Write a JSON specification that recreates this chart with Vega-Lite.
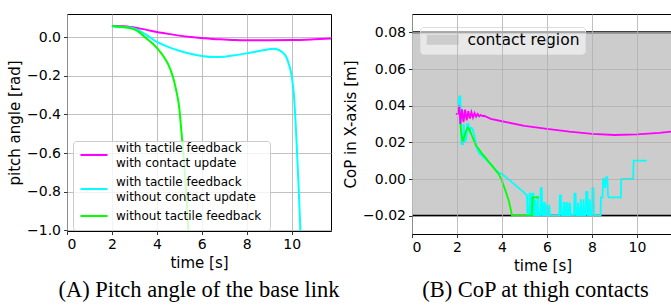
{
  "$schema": "https://vega.github.io/schema/vega-lite/v6.json",
  "background": "white",
  "padding": {"left": 7, "top": 13, "right": 0, "bottom": 0},
  "spacing": 2,
  "config": {
    "font": "DejaVu Sans",
    "view": {"stroke": "black", "strokeWidth": 1},
    "axis": {
      "grid": true, "gridColor": "#b0b0b0", "gridWidth": 0.8,
      "domain": false,
      "tickColor": "black", "tickSize": 3.5, "tickWidth": 0.8,
      "labelFont": "DejaVu Sans", "labelFontSize": 14, "labelColor": "black", "labelPadding": 3,
      "titleFont": "DejaVu Sans", "titleFontSize": 15, "titleFontWeight": "normal", "titleColor": "black", "titlePadding": 4
    },
    "title": {"font": "Liberation Serif", "fontSize": 22.5, "fontWeight": "normal", "color": "black"}
  },
  "resolve": {"scale": {"color": "independent", "fill": "independent"}, "legend": {"color": "independent"}},
  "hconcat": [
    {
      "width": 264, "height": 217,
      "title": {"text": "(A) Pitch angle of the base link", "orient": "bottom", "anchor": "middle", "offset": 8},
      "data": {"values": [
        {"series": "with tactile feedback|with contact update", "t": 2.0, "v": 0.058},
        {"series": "with tactile feedback|with contact update", "t": 2.5, "v": 0.057},
        {"series": "with tactile feedback|with contact update", "t": 3.0, "v": 0.05},
        {"series": "with tactile feedback|with contact update", "t": 3.5, "v": 0.039},
        {"series": "with tactile feedback|with contact update", "t": 4.0, "v": 0.027},
        {"series": "with tactile feedback|with contact update", "t": 4.5, "v": 0.017},
        {"series": "with tactile feedback|with contact update", "t": 5.0, "v": 0.008},
        {"series": "with tactile feedback|with contact update", "t": 5.5, "v": 0.001},
        {"series": "with tactile feedback|with contact update", "t": 6.0, "v": -0.004},
        {"series": "with tactile feedback|with contact update", "t": 6.5, "v": -0.009},
        {"series": "with tactile feedback|with contact update", "t": 7.0, "v": -0.012},
        {"series": "with tactile feedback|with contact update", "t": 7.5, "v": -0.015},
        {"series": "with tactile feedback|with contact update", "t": 8.0, "v": -0.016},
        {"series": "with tactile feedback|with contact update", "t": 9.0, "v": -0.016},
        {"series": "with tactile feedback|with contact update", "t": 10.0, "v": -0.015},
        {"series": "with tactile feedback|with contact update", "t": 11.0, "v": -0.011},
        {"series": "with tactile feedback|with contact update", "t": 11.75, "v": -0.007},
        {"series": "with tactile feedback|without contact update", "t": 2.0, "v": 0.058},
        {"series": "with tactile feedback|without contact update", "t": 2.3, "v": 0.052},
        {"series": "with tactile feedback|without contact update", "t": 2.7, "v": 0.052},
        {"series": "with tactile feedback|without contact update", "t": 3.0, "v": 0.044},
        {"series": "with tactile feedback|without contact update", "t": 3.5, "v": 0.015},
        {"series": "with tactile feedback|without contact update", "t": 4.0, "v": -0.025},
        {"series": "with tactile feedback|without contact update", "t": 4.5, "v": -0.05},
        {"series": "with tactile feedback|without contact update", "t": 5.0, "v": -0.07},
        {"series": "with tactile feedback|without contact update", "t": 5.5, "v": -0.086},
        {"series": "with tactile feedback|without contact update", "t": 6.0, "v": -0.097},
        {"series": "with tactile feedback|without contact update", "t": 6.6, "v": -0.103},
        {"series": "with tactile feedback|without contact update", "t": 7.0, "v": -0.101},
        {"series": "with tactile feedback|without contact update", "t": 7.5, "v": -0.093},
        {"series": "with tactile feedback|without contact update", "t": 8.0, "v": -0.084},
        {"series": "with tactile feedback|without contact update", "t": 8.5, "v": -0.073},
        {"series": "with tactile feedback|without contact update", "t": 9.0, "v": -0.062},
        {"series": "with tactile feedback|without contact update", "t": 9.2, "v": -0.06},
        {"series": "with tactile feedback|without contact update", "t": 9.4, "v": -0.065},
        {"series": "with tactile feedback|without contact update", "t": 9.6, "v": -0.08},
        {"series": "with tactile feedback|without contact update", "t": 9.75, "v": -0.1},
        {"series": "with tactile feedback|without contact update", "t": 9.9, "v": -0.15},
        {"series": "with tactile feedback|without contact update", "t": 10.0, "v": -0.2},
        {"series": "with tactile feedback|without contact update", "t": 10.1, "v": -0.3},
        {"series": "with tactile feedback|without contact update", "t": 10.2, "v": -0.5},
        {"series": "with tactile feedback|without contact update", "t": 10.3, "v": -0.75},
        {"series": "with tactile feedback|without contact update", "t": 10.37, "v": -0.95},
        {"series": "with tactile feedback|without contact update", "t": 10.4, "v": -1.05},
        {"series": "without tactile feedback", "t": 2.0, "v": 0.058},
        {"series": "without tactile feedback", "t": 2.5, "v": 0.053},
        {"series": "without tactile feedback", "t": 3.0, "v": 0.04},
        {"series": "without tactile feedback", "t": 3.25, "v": 0.022},
        {"series": "without tactile feedback", "t": 3.5, "v": -0.003},
        {"series": "without tactile feedback", "t": 4.0, "v": -0.055},
        {"series": "without tactile feedback", "t": 4.3, "v": -0.1},
        {"series": "without tactile feedback", "t": 4.5, "v": -0.14},
        {"series": "without tactile feedback", "t": 4.7, "v": -0.2},
        {"series": "without tactile feedback", "t": 4.85, "v": -0.27},
        {"series": "without tactile feedback", "t": 5.0, "v": -0.37},
        {"series": "without tactile feedback", "t": 5.1, "v": -0.5},
        {"series": "without tactile feedback", "t": 5.25, "v": -0.71},
        {"series": "without tactile feedback", "t": 5.4, "v": -1.0},
        {"series": "without tactile feedback", "t": 5.42, "v": -1.05}
      ]},
      "mark": {"type": "line", "strokeWidth": 2, "clip": true, "interpolate": "monotone"},
      "encoding": {
        "x": {"field": "t", "type": "quantitative", "scale": {"domain": [0, 11.75], "nice": false, "zero": false},
              "axis": {"values": [0, 2, 4, 6, 8, 10], "title": "time [s]"}},
        "y": {"field": "v", "type": "quantitative", "scale": {"domain": [-1.004, 0.12], "nice": false, "zero": false},
              "axis": {"values": [0, -0.2, -0.4, -0.6, -0.8, -1.0], "format": ".1f", "title": "pitch angle [rad]"}},
        "color": {"field": "series", "type": "nominal",
          "scale": {"domain": ["with tactile feedback|with contact update", "with tactile feedback|without contact update", "without tactile feedback"],
                    "range": ["#ff00ff", "#00ffff", "#00ff00"]},
          "legend": {"title": null, "orient": "none", "legendX": 6, "legendY": 127,
            "symbolType": "M-3,0H3", "symbolStrokeWidth": 2, "symbolSize": 81, "symbolOffset": 7,
            "labelExpr": "split(datum.label, '|')", "labelFontSize": 12, "labelFont": "DejaVu Sans", "labelColor": "black",
            "labelLimit": 300, "labelOffset": 16, "labelAlign": "left",
            "fillColor": "rgba(255,255,255,0.8)", "strokeColor": "#cccccc", "cornerRadius": 3,
            "padding": 8, "rowPadding": 7,
            "encode": {"labels": {"update": {
              "lineHeight": {"value": 15},
              "dy": {"signal": "indexof(datum.label, '|') >= 0 ? -7 : 0"}
            }}}}
        }
      }
    },
    {
      "width": 261, "height": 220,
      "title": {"text": "(B) CoP at thigh contacts", "orient": "bottom", "anchor": "middle", "offset": 5, "dx": -7},
      "layer": [
        {
          "data": {"values": [{"label": "contact region", "x1": 0, "x2": 11.6, "y1": -0.02, "y2": 0.08}]},
          "mark": {"type": "rect"},
          "encoding": {
            "x": {"field": "x1", "type": "quantitative", "scale": {"domain": [0, 11.6], "nice": false, "zero": false},
                  "axis": {"values": [0, 2, 4, 6, 8, 10], "title": "time [s]", "zindex": 1}},
            "x2": {"field": "x2"},
            "y": {"field": "y1", "type": "quantitative", "scale": {"domain": [-0.03, 0.09], "nice": false, "zero": false},
                  "axis": {"values": [-0.02, 0, 0.02, 0.04, 0.06, 0.08], "format": ".2f", "title": "CoP in X-axis [m]", "zindex": 1}},
            "y2": {"field": "y2"},
            "fill": {"field": "label", "type": "nominal", "scale": {"range": ["#cccccc"]},
              "legend": {"title": null, "orient": "none", "legendX": 8, "legendY": 13,
                "symbolType": "M-3.2,-1H3.2V1H-3.2Z", "symbolSize": 100, "symbolStrokeWidth": 0, "symbolOffset": 10,
                "labelFontSize": 15.5, "labelFont": "DejaVu Sans", "labelColor": "black", "labelOffset": 17,
                "fillColor": "rgba(255,255,255,0.55)", "strokeColor": "#dddddd", "cornerRadius": 3, "padding": 5}}
          }
        },
        {
          "data": {"values": [{"y": 0.08}, {"y": -0.02}]},
          "mark": {"type": "rule", "color": "black", "strokeWidth": 2},
          "encoding": {"y": {"field": "y", "type": "quantitative"}}
        },
        {
          "data": {"values": [
            {"s": "cyan", "t": 2.05, "v": 0.035}, {"s": "cyan", "t": 2.1, "v": 0.045}, {"s": "cyan", "t": 2.15, "v": 0.045},
            {"s": "cyan", "t": 2.2, "v": 0.019}, {"s": "cyan", "t": 2.27, "v": 0.019}, {"s": "cyan", "t": 2.3, "v": 0.03},
            {"s": "cyan", "t": 2.35, "v": 0.02}, {"s": "cyan", "t": 2.42, "v": 0.022}, {"s": "cyan", "t": 2.45, "v": 0.03},
            {"s": "cyan", "t": 2.5, "v": 0.03}, {"s": "cyan", "t": 2.55, "v": 0.026}, {"s": "cyan", "t": 2.62, "v": 0.028},
            {"s": "cyan", "t": 2.7, "v": 0.027}, {"s": "cyan", "t": 2.8, "v": 0.022}, {"s": "cyan", "t": 2.9, "v": 0.016},
            {"s": "cyan", "t": 3.0, "v": 0.014}, {"s": "cyan", "t": 3.26, "v": 0.011}, {"s": "cyan", "t": 3.56, "v": 0.007},
            {"s": "cyan", "t": 3.85, "v": 0.0035}, {"s": "cyan", "t": 4.0, "v": 0.0027}, {"s": "cyan", "t": 4.3, "v": -0.0003},
            {"s": "cyan", "t": 4.6, "v": -0.0035}, {"s": "cyan", "t": 4.9, "v": -0.0065}, {"s": "cyan", "t": 5.11, "v": -0.009},
            {"s": "cyan", "t": 5.13, "v": -0.02}, {"s": "cyan", "t": 5.2, "v": -0.02}, {"s": "cyan", "t": 5.22, "v": -0.008},
            {"s": "cyan", "t": 5.26, "v": -0.008}, {"s": "cyan", "t": 5.28, "v": -0.02}, {"s": "cyan", "t": 5.33, "v": -0.02},
            {"s": "cyan", "t": 5.35, "v": -0.008}, {"s": "cyan", "t": 5.4, "v": -0.008}, {"s": "cyan", "t": 5.42, "v": -0.02},
            {"s": "cyan", "t": 5.46, "v": -0.02}, {"s": "cyan", "t": 5.48, "v": -0.011}, {"s": "cyan", "t": 5.5, "v": -0.02},
            {"s": "cyan", "t": 5.56, "v": -0.02}, {"s": "cyan", "t": 5.58, "v": -0.009}, {"s": "cyan", "t": 5.62, "v": -0.02},
            {"s": "cyan", "t": 5.7, "v": -0.02}, {"s": "cyan", "t": 5.72, "v": -0.005}, {"s": "cyan", "t": 5.77, "v": -0.005},
            {"s": "cyan", "t": 5.79, "v": -0.02}, {"s": "cyan", "t": 5.85, "v": -0.02}, {"s": "cyan", "t": 5.87, "v": -0.013},
            {"s": "cyan", "t": 5.91, "v": -0.013}, {"s": "cyan", "t": 5.93, "v": -0.02}, {"s": "cyan", "t": 5.98, "v": -0.02},
            {"s": "cyan", "t": 6.0, "v": -0.014}, {"s": "cyan", "t": 6.03, "v": -0.02}, {"s": "cyan", "t": 6.08, "v": -0.02},
            {"s": "cyan", "t": 6.1, "v": -0.014}, {"s": "cyan", "t": 6.13, "v": -0.02}, {"s": "cyan", "t": 6.55, "v": -0.02},
            {"s": "cyan", "t": 6.57, "v": -0.009}, {"s": "cyan", "t": 6.62, "v": -0.009}, {"s": "cyan", "t": 6.64, "v": -0.02},
            {"s": "cyan", "t": 6.72, "v": -0.02}, {"s": "cyan", "t": 6.74, "v": -0.013}, {"s": "cyan", "t": 6.78, "v": -0.013},
            {"s": "cyan", "t": 6.8, "v": -0.02}, {"s": "cyan", "t": 6.86, "v": -0.02}, {"s": "cyan", "t": 6.88, "v": -0.013},
            {"s": "cyan", "t": 6.92, "v": -0.013}, {"s": "cyan", "t": 6.94, "v": -0.02}, {"s": "cyan", "t": 7.0, "v": -0.02},
            {"s": "cyan", "t": 7.02, "v": -0.013}, {"s": "cyan", "t": 7.06, "v": -0.02}, {"s": "cyan", "t": 7.2, "v": -0.02},
            {"s": "cyan", "t": 7.22, "v": -0.008}, {"s": "cyan", "t": 7.27, "v": -0.008}, {"s": "cyan", "t": 7.29, "v": -0.02},
            {"s": "cyan", "t": 7.36, "v": -0.02}, {"s": "cyan", "t": 7.38, "v": -0.013}, {"s": "cyan", "t": 7.42, "v": -0.02},
            {"s": "cyan", "t": 7.48, "v": -0.02}, {"s": "cyan", "t": 7.5, "v": -0.011}, {"s": "cyan", "t": 7.54, "v": -0.02},
            {"s": "cyan", "t": 7.6, "v": -0.02}, {"s": "cyan", "t": 7.62, "v": -0.011}, {"s": "cyan", "t": 7.66, "v": -0.02},
            {"s": "cyan", "t": 7.72, "v": -0.02}, {"s": "cyan", "t": 7.74, "v": -0.007}, {"s": "cyan", "t": 7.8, "v": -0.007},
            {"s": "cyan", "t": 7.82, "v": -0.02}, {"s": "cyan", "t": 7.88, "v": -0.02}, {"s": "cyan", "t": 7.9, "v": -0.011},
            {"s": "cyan", "t": 7.93, "v": -0.02}, {"s": "cyan", "t": 8.0, "v": -0.02}, {"s": "cyan", "t": 8.02, "v": -0.005},
            {"s": "cyan", "t": 8.07, "v": -0.005}, {"s": "cyan", "t": 8.09, "v": -0.02}, {"s": "cyan", "t": 8.38, "v": -0.02},
            {"s": "cyan", "t": 8.4, "v": -0.01}, {"s": "cyan", "t": 8.47, "v": -0.01}, {"s": "cyan", "t": 8.49, "v": 0.0},
            {"s": "cyan", "t": 8.55, "v": 0.0}, {"s": "cyan", "t": 8.58, "v": -0.005}, {"s": "cyan", "t": 8.63, "v": 0.001},
            {"s": "cyan", "t": 8.68, "v": 0.001}, {"s": "cyan", "t": 8.71, "v": -0.009}, {"s": "cyan", "t": 8.75, "v": -0.01},
            {"s": "cyan", "t": 9.28, "v": -0.01}, {"s": "cyan", "t": 9.3, "v": 0.0}, {"s": "cyan", "t": 9.83, "v": 0.0},
            {"s": "cyan", "t": 9.85, "v": 0.01}, {"s": "cyan", "t": 10.44, "v": 0.01},
            {"s": "green", "t": 2.12, "v": 0.034}, {"s": "green", "t": 2.2, "v": 0.024}, {"s": "green", "t": 2.25, "v": 0.021},
            {"s": "green", "t": 2.3, "v": 0.022}, {"s": "green", "t": 2.4, "v": 0.026}, {"s": "green", "t": 2.48, "v": 0.028},
            {"s": "green", "t": 2.55, "v": 0.027}, {"s": "green", "t": 2.65, "v": 0.024}, {"s": "green", "t": 2.75, "v": 0.021},
            {"s": "green", "t": 2.85, "v": 0.018}, {"s": "green", "t": 2.96, "v": 0.0165}, {"s": "green", "t": 3.1, "v": 0.014},
            {"s": "green", "t": 3.26, "v": 0.0118}, {"s": "green", "t": 3.4, "v": 0.0095}, {"s": "green", "t": 3.56, "v": 0.0073},
            {"s": "green", "t": 3.7, "v": 0.005}, {"s": "green", "t": 3.85, "v": 0.0027}, {"s": "green", "t": 4.0, "v": -0.001},
            {"s": "green", "t": 4.1, "v": -0.0045}, {"s": "green", "t": 4.2, "v": -0.008}, {"s": "green", "t": 4.3, "v": -0.0118},
            {"s": "green", "t": 4.38, "v": -0.016}, {"s": "green", "t": 4.44, "v": -0.02}, {"s": "green", "t": 5.33, "v": -0.02},
            {"s": "green", "t": 5.36, "v": -0.01}, {"s": "green", "t": 5.65, "v": -0.01},
            {"s": "magenta", "t": 1.95, "v": 0.0355}, {"s": "magenta", "t": 2.05, "v": 0.0355}, {"s": "magenta", "t": 2.1, "v": 0.04},
            {"s": "magenta", "t": 2.15, "v": 0.03}, {"s": "magenta", "t": 2.22, "v": 0.038}, {"s": "magenta", "t": 2.29, "v": 0.031},
            {"s": "magenta", "t": 2.36, "v": 0.0378}, {"s": "magenta", "t": 2.43, "v": 0.032}, {"s": "magenta", "t": 2.5, "v": 0.037},
            {"s": "magenta", "t": 2.57, "v": 0.033}, {"s": "magenta", "t": 2.64, "v": 0.0365}, {"s": "magenta", "t": 2.71, "v": 0.0335},
            {"s": "magenta", "t": 2.78, "v": 0.036}, {"s": "magenta", "t": 2.85, "v": 0.034}, {"s": "magenta", "t": 2.92, "v": 0.0355},
            {"s": "magenta", "t": 2.99, "v": 0.0342}, {"s": "magenta", "t": 3.06, "v": 0.035}, {"s": "magenta", "t": 3.13, "v": 0.0343},
            {"s": "magenta", "t": 3.2, "v": 0.0345}, {"s": "magenta", "t": 3.5, "v": 0.0328}, {"s": "magenta", "t": 4.0, "v": 0.0315},
            {"s": "magenta", "t": 5.0, "v": 0.029}, {"s": "magenta", "t": 6.0, "v": 0.0273}, {"s": "magenta", "t": 7.0, "v": 0.0258},
            {"s": "magenta", "t": 8.0, "v": 0.0246}, {"s": "magenta", "t": 9.0, "v": 0.024}, {"s": "magenta", "t": 10.0, "v": 0.0243},
            {"s": "magenta", "t": 11.0, "v": 0.0252}, {"s": "magenta", "t": 11.6, "v": 0.026}
          ]},
          "mark": {"type": "line", "strokeWidth": 1.8},
          "encoding": {
            "x": {"field": "t", "type": "quantitative"},
            "y": {"field": "v", "type": "quantitative"},
            "color": {"field": "s", "type": "nominal", "scale": {"domain": ["cyan", "green", "magenta"], "range": ["#00ffff", "#00ff00", "#ff00ff"]}, "legend": null}
          }
        }
      ]
    }
  ]
}
